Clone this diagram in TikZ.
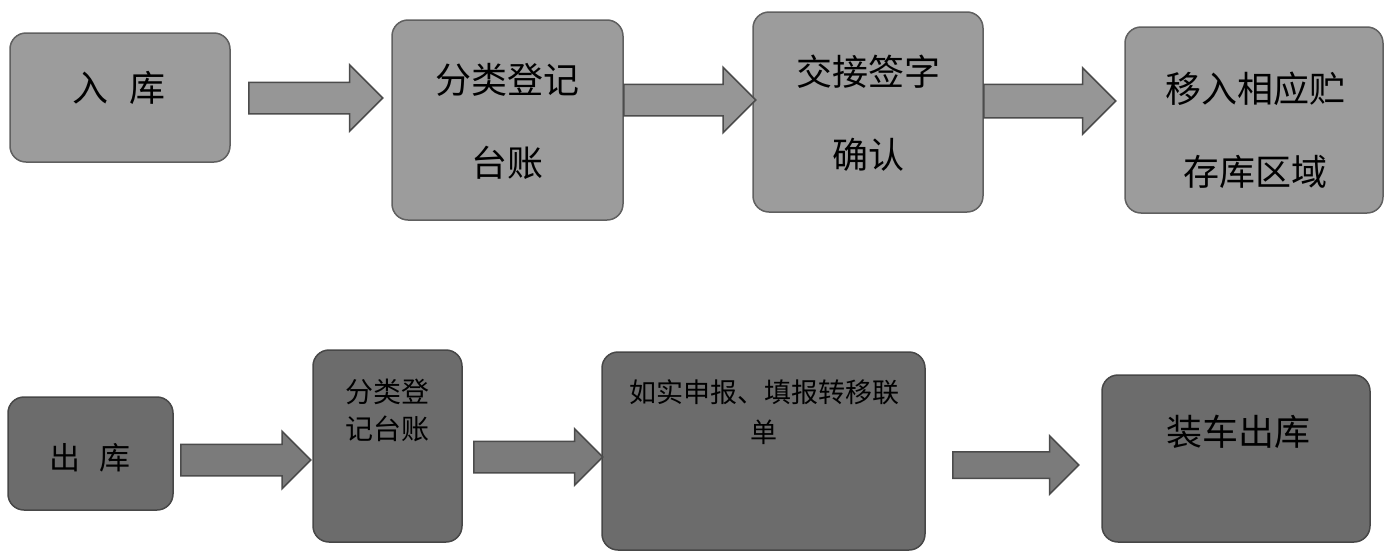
\documentclass[tikz,border=0pt]{standalone}
\usepackage{fontspec}
\newfontfamily\cjk{Noto Sans CJK SC}
\usetikzlibrary{shapes.arrows}
\definecolor{boxgray}{RGB}{156,156,156}
\definecolor{darkbox}{RGB}{108,108,108}
\definecolor{edgegray}{RGB}{96,96,96}
\definecolor{arrowfill}{RGB}{150,150,150}
\tikzset{
  inbox/.style={draw=edgegray, line width=1.5pt, fill=boxgray, rounded corners=16pt, inner sep=0pt},
  outbox/.style={inbox, fill=darkbox, draw=black!72},
  bigtxt/.style={font=\cjk\fontsize{36}{83}\selectfont, align=center, inner sep=0pt},
  smalltxt/.style={font=\cjk\fontsize{28}{37}\selectfont, align=center, inner sep=0pt},
  fat/.style={single arrow, anchor=tail, draw=black!70, line width=1.5pt, fill=arrowfill, inner xsep=0pt},
  darkfat/.style={fat, fill=darkbox!90}
}
\begin{document}
\begin{tikzpicture}[x=1pt, y=-1pt]
\useasboundingbox (0,0) rectangle (1394,552);
% Eingang
\node[inbox, minimum width=220pt, minimum height=129pt] (ruku) at (120,97.5) {};
\node[bigtxt] (ruku-t) at (119,88) {入\hspace{.6em}库};
\node[inbox, minimum width=231pt, minimum height=200pt] (dengji) at (507.5,120) {};
\node[bigtxt] (dengji-t) at (507,121) {分类登记\\台账};
\node[inbox, minimum width=230pt, minimum height=200pt] (jiaojie) at (868,112) {};
\node[bigtxt] (jiaojie-t) at (868,113) {交接签字\\确认};
\node[inbox, minimum width=258pt, minimum height=186pt] (yiru) at (1254,120) {};
\node[bigtxt] (yiru-t) at (1255,130) {移入相应贮\\存库区域};
\node[fat, minimum height=134pt, minimum width=65pt, inner ysep=15pt, single arrow head extend=17.5pt] (pfeil1) at (248,98) {};
\node[fat, minimum height=132pt, minimum width=64pt, inner ysep=15pt, single arrow head extend=17pt] (pfeil2) at (623,100) {};
\node[fat, minimum height=132pt, minimum width=65pt, inner ysep=16pt, single arrow head extend=16.5pt] (pfeil3) at (983,101) {};
% Ausgang
\node[outbox, minimum width=165pt, minimum height=113pt] (chuku) at (90.5,453.5) {};
\node[bigtxt, font=\cjk\fontsize{31}{40}\selectfont] (chuku-t) at (90,458) {出\hspace{.6em}库};
\node[outbox, minimum width=149pt, minimum height=192pt] (taizhang) at (387.5,446) {};
\node[smalltxt] (taizhang-t) at (387,410) {分类登\\记台账};
\node[outbox, minimum width=323pt, minimum height=198pt] (shenbao) at (763.5,451) {};
\node[smalltxt, font=\cjk\fontsize{27}{40}\selectfont] (shenbao-t) at (764,412) {如实申报、填报转移联\\单};
\node[outbox, minimum width=268pt, minimum height=167pt] (zhuangche) at (1236,458.5) {};
\node[bigtxt] (zhuangche-t) at (1238,432) {装车出库};
\node[darkfat, minimum height=130pt, minimum width=56pt, inner ysep=15pt, single arrow head extend=13pt] (pfeil4) at (180,460) {};
\node[darkfat, minimum height=129pt, minimum width=55pt, inner ysep=15pt, single arrow head extend=12.5pt] (pfeil5) at (473,457) {};
\node[darkfat, minimum height=126pt, minimum width=57pt, inner ysep=12.5pt, single arrow head extend=16pt] (pfeil6) at (952,465) {};
\end{tikzpicture}
\end{document}
